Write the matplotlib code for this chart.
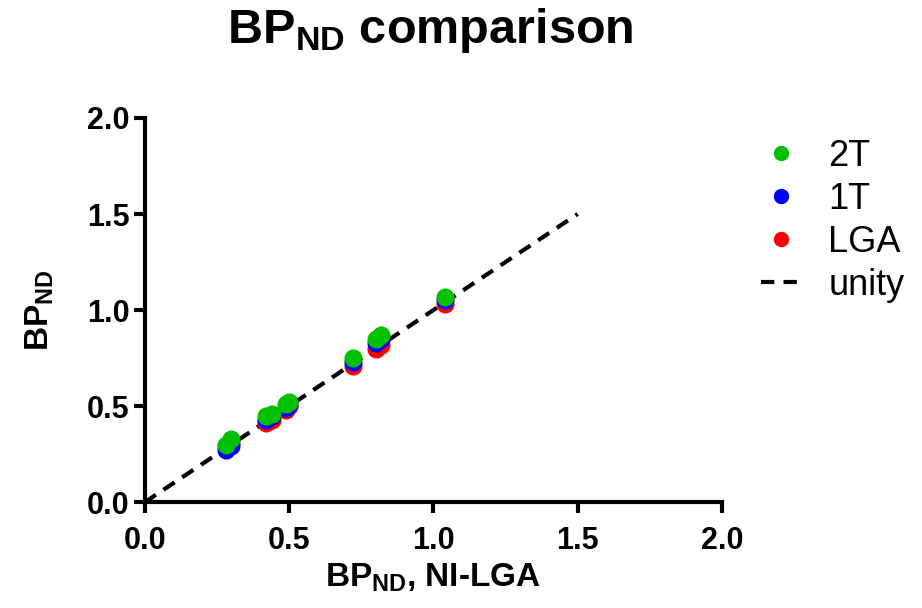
import matplotlib
matplotlib.use("Agg")
import matplotlib.pyplot as plt
from matplotlib.ticker import FormatStrFormatter

plt.rcParams['font.family'] = ['Liberation Sans', 'DejaVu Sans']
plt.rcParams['mathtext.fontset'] = 'custom'
plt.rcParams['mathtext.rm'] = 'Liberation Sans'
plt.rcParams['mathtext.bf'] = 'Liberation Sans:bold'

# BP_ND per region: NI-LGA reference vs. each kinetic method
ni_lga = [0.28, 0.30, 0.42, 0.44, 0.49, 0.50, 0.72, 0.80, 0.82, 1.04]
bp_lga = [0.29, 0.31, 0.41, 0.43, 0.48, 0.50, 0.71, 0.80, 0.82, 1.03]
bp_1t = [0.27, 0.29, 0.43, 0.45, 0.49, 0.51, 0.73, 0.83, 0.85, 1.05]
bp_2t = [0.30, 0.33, 0.45, 0.46, 0.51, 0.52, 0.75, 0.85, 0.87, 1.07]
unity_x = [0.0, 1.5]

fig = plt.figure(figsize=(9.22, 6.08), dpi=100)
ax = fig.add_axes([0.157, 0.174, 0.626, 0.632])

ms = 13
h_lga, = ax.plot(ni_lga, bp_lga, 'o', color='#ff0000', ms=ms, mec='none', label='LGA', zorder=3)
h_1t, = ax.plot(ni_lga, bp_1t, 'o', color='#0000ff', ms=ms, mec='none', label='1T', zorder=4)
h_2t, = ax.plot(ni_lga, bp_2t, 'o', color='#00c000', ms=ms, mec='none', label='2T', zorder=5)
h_unity, = ax.plot(unity_x, unity_x, '--', color='black', lw=3, dashes=(3.2, 2.2), label='unity', zorder=2)

ax.set_xlim(0, 2.0)
ax.set_ylim(0, 2.0)
ax.set_xticks([0.0, 0.5, 1.0, 1.5, 2.0])
ax.set_yticks([0.0, 0.5, 1.0, 1.5, 2.0])
ax.xaxis.set_major_formatter(FormatStrFormatter('%.1f'))
ax.yaxis.set_major_formatter(FormatStrFormatter('%.1f'))

for side in ('top', 'right'):
    ax.spines[side].set_visible(False)
for side in ('left', 'bottom'):
    ax.spines[side].set_linewidth(3)
ax.tick_params(direction='out', length=8, width=3, labelsize=22)
ax.tick_params(axis='x', pad=9)
ax.tick_params(axis='y', pad=3)
for lbl in ax.get_xticklabels() + ax.get_yticklabels():
    lbl.set_fontweight('bold')

ax.set_xlabel(r'$\mathbf{BP_{ND}}$, NI-LGA', fontsize=24, fontweight='bold', labelpad=4)
ax.set_ylabel(r'$\mathbf{BP_{ND}}$', fontsize=24, fontweight='bold', labelpad=22)
fig.suptitle(r'$\mathbf{BP_{ND}}$ comparison', fontsize=35, fontweight='bold', x=0.467, y=0.99)

ax.legend(handles=[h_2t, h_1t, h_lga, h_unity], loc='upper left',
          bbox_to_anchor=(1.012, 1.03), frameon=False, fontsize=26,
          handlelength=1.1, handletextpad=0.75, labelspacing=0.22, markerscale=0.85)

fig.savefig('out.png', dpi=100)
